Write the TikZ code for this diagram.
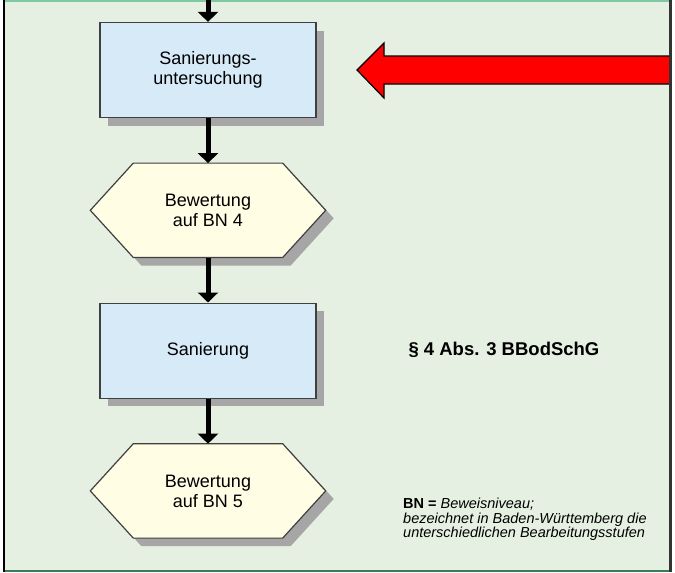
\documentclass[tikz,border=0pt]{standalone}
\usepackage{fontspec}
\setmainfont{Liberation Sans}
\usepackage{tikz}
\usetikzlibrary{shapes,arrows.meta,positioning,shadows,calc,backgrounds}

\definecolor{bggreen}{HTML}{E6F0E2}
\definecolor{boxblue}{HTML}{D6EAF8}
\definecolor{hexcream}{HTML}{FFFDE4}
\definecolor{topline}{HTML}{80C8A0}
\definecolor{botline}{HTML}{3C7A58}
\definecolor{shadowgray}{HTML}{A6A6A6}

\begin{document}
\begin{tikzpicture}[
    x=1pt, y=-1pt,
    node distance=45pt,
    stepbox/.style={rectangle, draw=black!75, line width=1.2pt, fill=boxblue,
                    minimum width=216pt, minimum height=95pt, align=center,
                    font=\fontsize{18}{20}\selectfont,
                    drop shadow={shadow xshift=8pt, shadow yshift=-8pt, fill=shadowgray, opacity=1}},
    rating/.style={rectangle, minimum width=235pt, minimum height=94pt, align=center,
                   font=\fontsize{18}{20}\selectfont},
    hexline/.style={draw=black!75, line width=1.2pt, fill=hexcream, line join=miter,
                    drop shadow={shadow xshift=8pt, shadow yshift=-8pt, fill=shadowgray, opacity=1}},
    arrow/.style={-{Triangle[width=20pt,length=10pt]}, line width=5pt, black}
]
\useasboundingbox (0,0) rectangle (675,573);

% flow
\coordinate (in) at (208,0);
\node[stepbox] (su) at (208,70) {Sanierungs-\\untersuchung};
\node[rating, below=45pt of su] (bn4) {Bewertung\\auf BN 4};
\node[stepbox, below=45pt of bn4] (san) {Sanierung};
\node[rating, below=45pt of san] (bn5) {Bewertung\\auf BN 5};

\begin{scope}[on background layer]
  % frame
  \fill[bggreen] (4,1) rectangle (670,571);
  \draw[topline, line width=2pt] (4,1) -- (670,1);
  \draw[botline, line width=2pt] (4,571) -- (670,571);
  % hexagons
  \foreach \h in {bn4,bn5}
    \path[hexline] (\h.west) -- ($(\h.north west)+(43,0)$) -- ($(\h.north east)+(-43,0)$)
      -- (\h.east) -- ($(\h.south east)+(-43,0)$) -- ($(\h.south west)+(43,0)$) -- cycle;
\end{scope}
\draw[black, line width=2pt] (4,0) -- (4,572);

% red pointer
\draw[fill=red, line width=1.2pt, line join=miter]
    (670,56) -- (384,56) -- (384,43) -- (357,70) -- (384,98) -- (384,84) -- (670,84);
\draw[black!80, line width=3pt] (670,0) -- (670,572);

\draw[arrow] (in) -- (su);
\draw[arrow] (su) -- (bn4);
\draw[arrow] (bn4) -- (san);
\draw[arrow] (san) -- (bn5);

% notes
\node[anchor=west, font=\fontsize{18.5}{20}\selectfont\bfseries] (law) at (405,350) {§ 4 Abs. 3 BBodSchG};
\node[anchor=north west, align=left, inner sep=0pt, font=\fontsize{14.5}{14.5}\selectfont] (note) at (403,498)
    {\textbf{BN =} \textit{Beweisniveau;}\\
     \textit{bezeichnet in Baden-Württemberg die}\\
     \textit{unterschiedlichen Bearbeitungsstufen}};
\end{tikzpicture}
\end{document}
